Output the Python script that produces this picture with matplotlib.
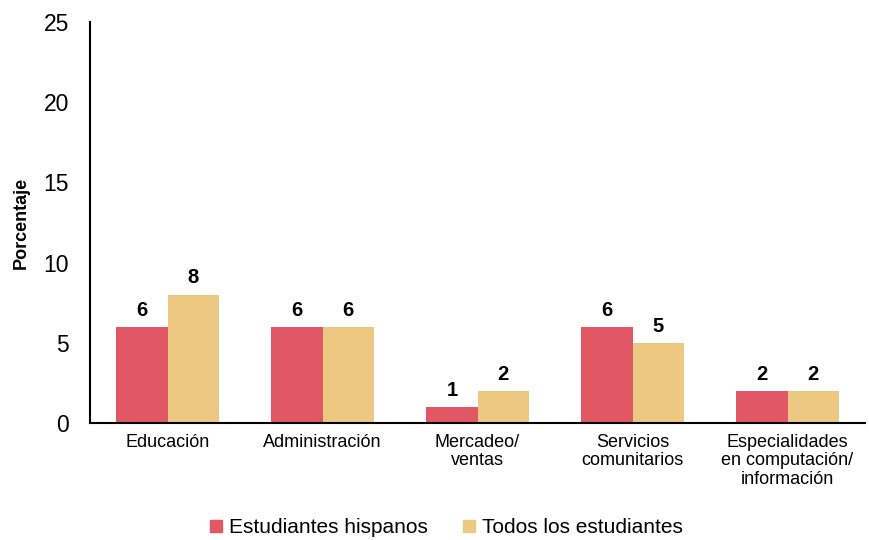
import matplotlib
matplotlib.use('Agg')
import matplotlib.pyplot as plt
from matplotlib.lines import Line2D
import numpy as np

plt.rcParams['font.family'] = ['Liberation Sans', 'DejaVu Sans']

categories = ['Educación', 'Administración', 'Mercadeo/\nventas',
              'Servicios\ncomunitarios', 'Especialidades\nen computación/\ninformación']
hispanos = [6, 6, 1, 6, 2]
todos = [8, 6, 2, 5, 2]
series_names = ['Estudiantes hispanos', 'Todos los estudiantes']
colors = ['#E15763', '#EDC883']

fig = plt.figure(figsize=(8.69, 5.4), dpi=100)
ax = fig.add_axes([0.1036, 0.2167, 0.8918, 0.7423])

x = np.arange(len(categories))
w = 0.33
for i, vals in enumerate([hispanos, todos]):
    pos = x + (i - 0.5) * w
    ax.bar(pos, vals, width=w, color=colors[i])
    for p, v in zip(pos, vals):
        ax.text(p, v + 0.45, str(v), ha='center', va='bottom',
                fontsize=14.5, fontweight='bold')

ax.set_xlim(-0.5, len(categories) - 0.5)
ax.set_ylim(0, 25)
ax.set_yticks([0, 5, 10, 15, 20, 25])
ax.set_xticks(x)
ax.set_xticklabels(categories, fontsize=13, linespacing=1.1)
ax.tick_params(axis='y', labelsize=16.5, length=0, pad=15)
ax.tick_params(axis='x', length=0, pad=8)
ax.spines[['top', 'right']].set_visible(False)
ax.spines['left'].set_linewidth(1.5)
ax.spines['bottom'].set_linewidth(1.5)
ax.set_ylabel('Porcentaje', fontsize=13, fontweight='bold', labelpad=10)

handles = [Line2D([], [], marker='s', linestyle='none', markersize=9,
                  color=c) for c in colors]
fig.legend(handles, series_names, loc='lower center', ncol=2, frameon=False,
           fontsize=15, handletextpad=-0.4, columnspacing=1.0,
           bbox_to_anchor=(0.505, -0.03))

plt.savefig('out.png', dpi=100)
